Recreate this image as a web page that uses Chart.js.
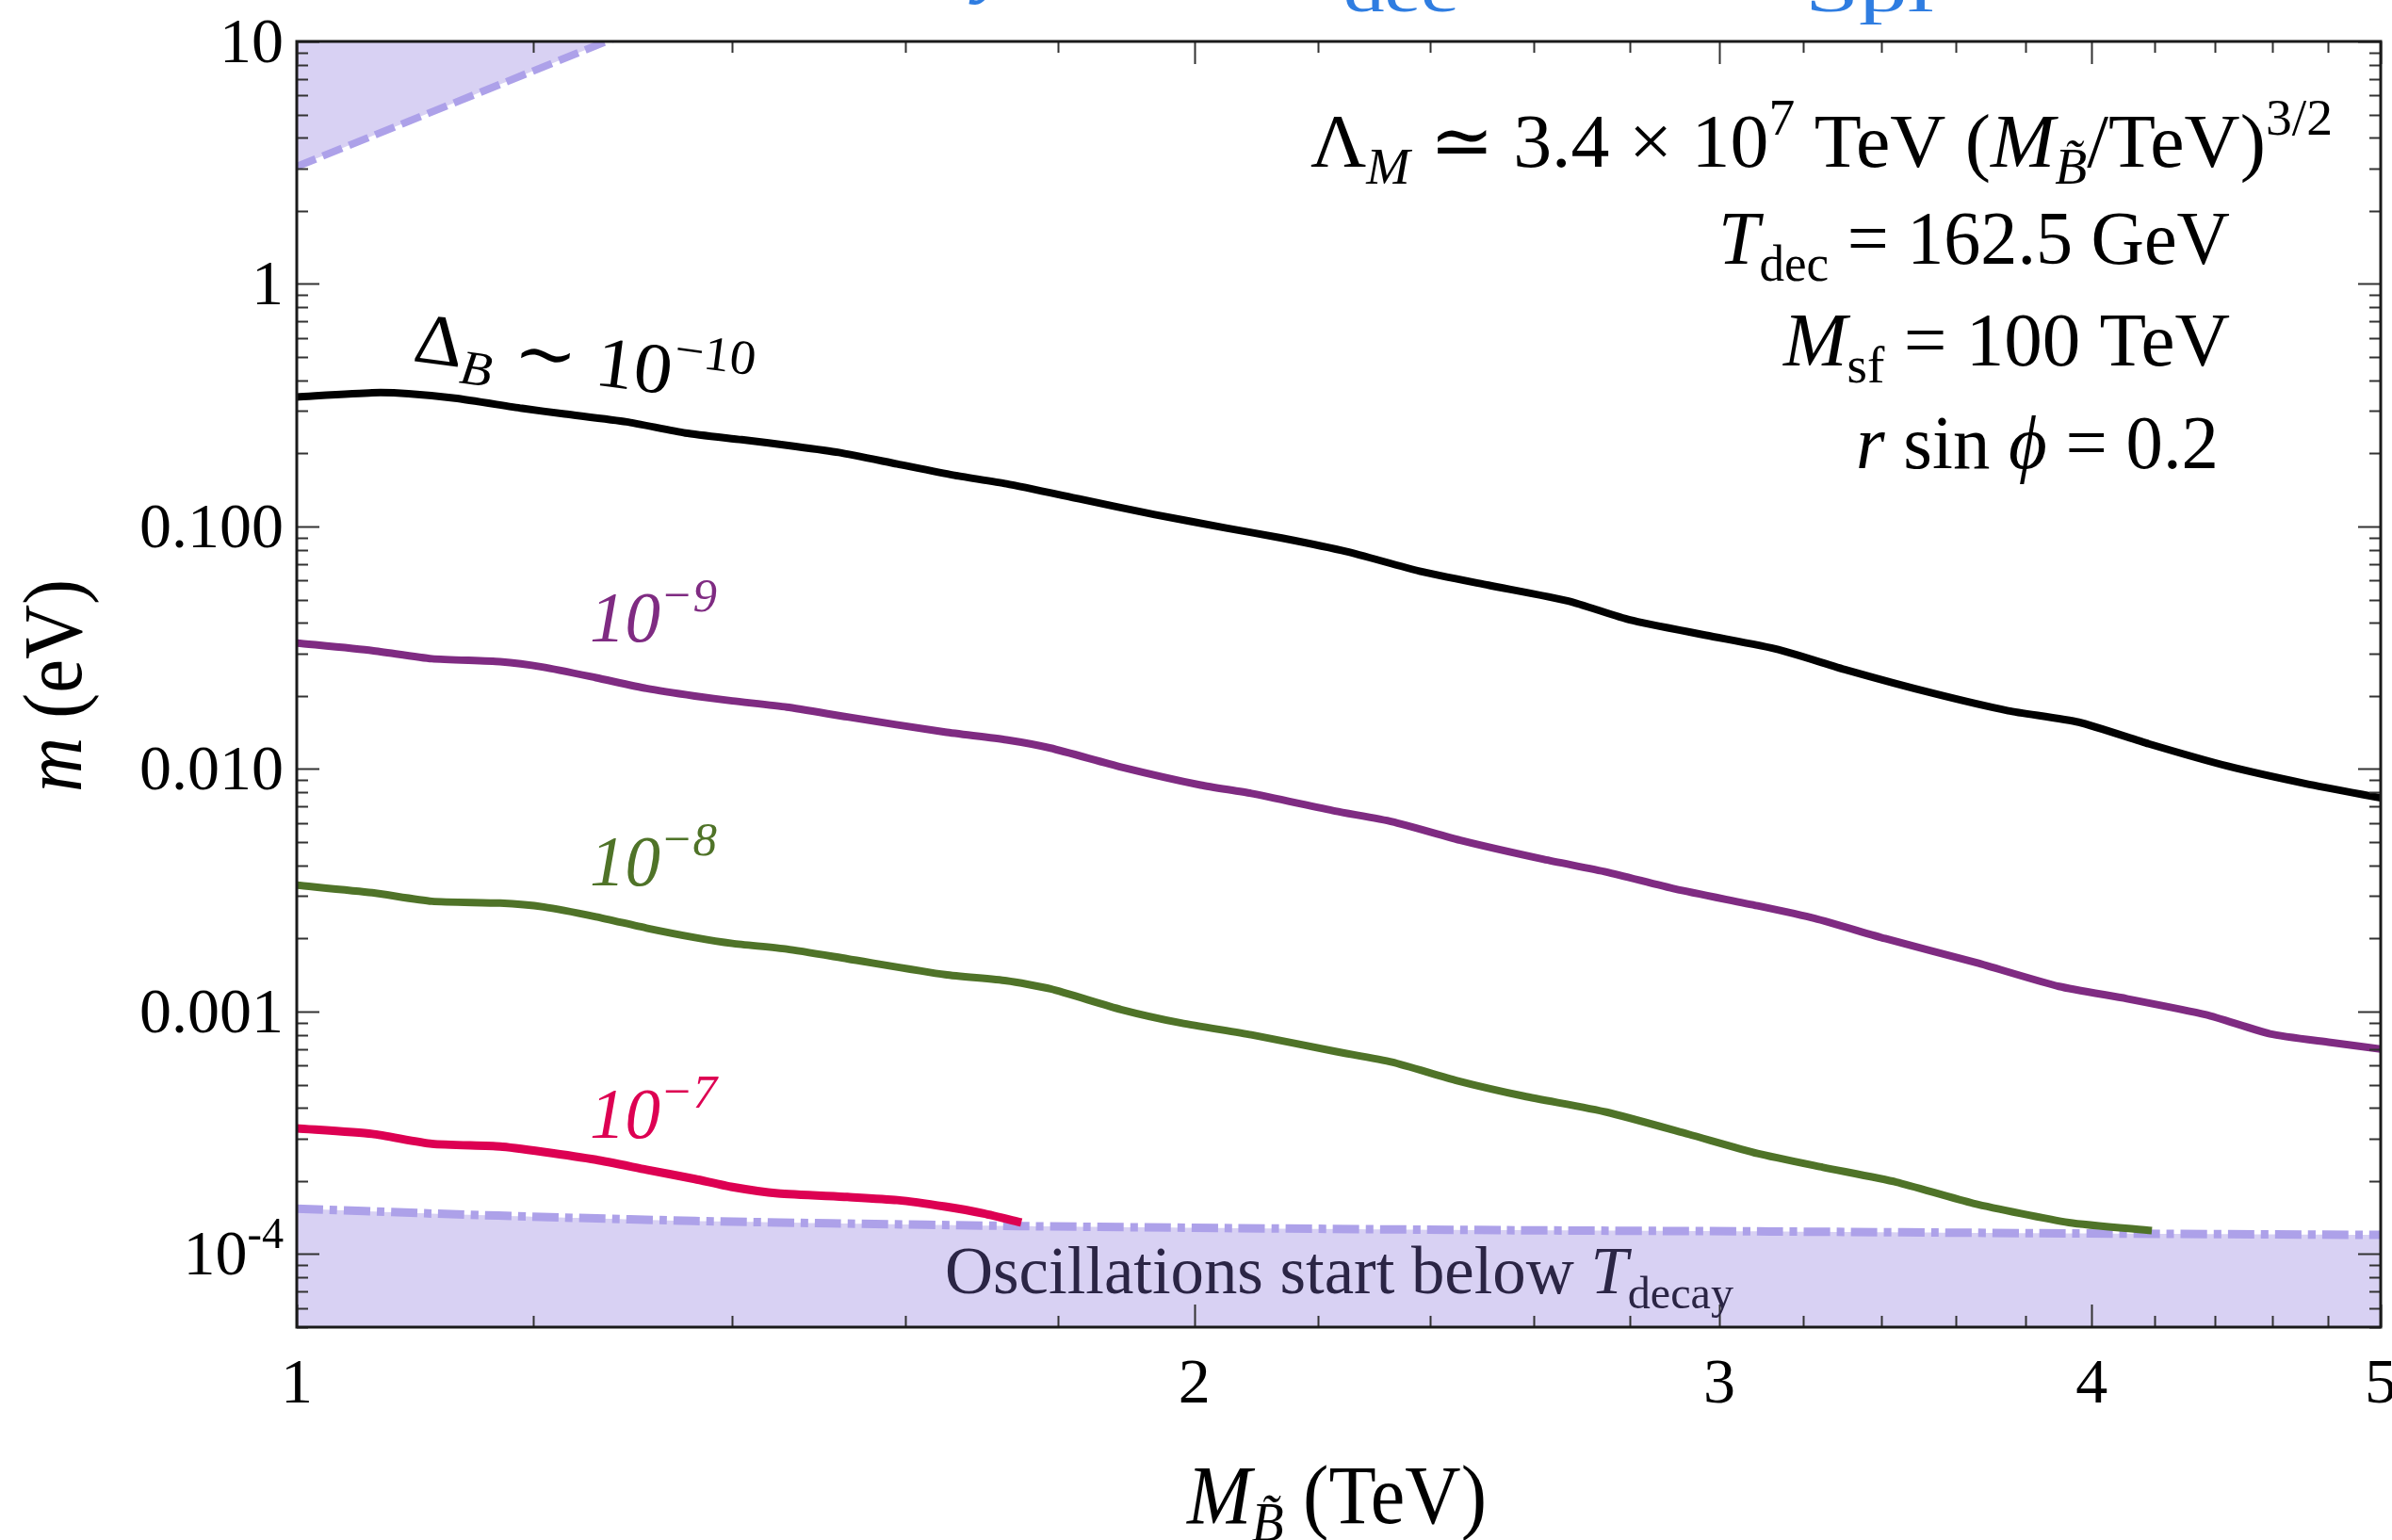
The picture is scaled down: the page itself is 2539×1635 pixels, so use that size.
<!DOCTYPE html>
<html>
<head>
<meta charset="utf-8">
<script src="https://cdn.jsdelivr.net/npm/chart.js@4"></script>
<style>
  html, body { margin: 0; padding: 0; background: #fff; }
  canvas { display: block; }
</style>
</head>
<body>
<canvas id="massChart" width="2539" height="1635"></canvas>
<script>
// Data: m (eV) against M_Bino (TeV), log-log
const blackX = [1.0, 1.06, 1.09, 1.13, 1.19, 1.23, 1.29, 1.35, 1.41, 1.47, 1.52, 1.59, 1.66, 1.73, 1.83, 1.94, 2.05, 2.14, 2.25, 2.38, 2.51, 2.67, 2.80, 2.97, 3.14, 3.31, 3.54, 3.75, 3.96, 4.18, 4.44, 4.72, 5.0];
const blackY = [0.342, 0.356, 0.353, 0.338, 0.307, 0.291, 0.270, 0.243, 0.228, 0.214, 0.202, 0.181, 0.163, 0.150, 0.130, 0.112, 0.0986, 0.0896, 0.0788, 0.0655, 0.0573, 0.0493, 0.0412, 0.0356, 0.0311, 0.0256, 0.0205, 0.0174, 0.0156, 0.0127, 0.0103, 0.0087, 0.0076];

const purpleX = [1.0, 1.06, 1.11, 1.17, 1.21, 1.26, 1.31, 1.36, 1.40, 1.46, 1.53, 1.65, 1.73, 1.79, 1.89, 2.01, 2.09, 2.23, 2.33, 2.46, 2.62, 2.75, 2.90, 3.09, 3.23, 3.41, 3.66, 3.90, 4.11, 4.37, 4.59, 4.81, 5.0];
const purpleY = [0.0331, 0.0308, 0.0285, 0.0277, 0.0263, 0.0238, 0.0215, 0.0200, 0.0191, 0.0180, 0.0164, 0.0142, 0.0132, 0.0122, 0.0102, 0.00859, 0.00793, 0.00671, 0.00607, 0.00506, 0.00424, 0.00376, 0.00320, 0.00273, 0.00242, 0.00200, 0.00159, 0.00127, 0.00113, 0.00097, 0.00081, 0.000746, 0.000700];

const greenX = [1.0, 1.06, 1.11, 1.17, 1.21, 1.26, 1.31, 1.36, 1.40, 1.46, 1.53, 1.65, 1.73, 1.79, 1.89, 1.98, 2.09, 2.23, 2.33, 2.45, 2.58, 2.75, 2.93, 3.09, 3.25, 3.44, 3.65, 3.93, 4.19];
const greenY = [0.00332, 0.00309, 0.00285, 0.00280, 0.00270, 0.00246, 0.00221, 0.00202, 0.00191, 0.00181, 0.00165, 0.00142, 0.00134, 0.00124, 0.00102, 0.000897, 0.000802, 0.000685, 0.000619, 0.000519, 0.000448, 0.000385, 0.000312, 0.000260, 0.000228, 0.000198, 0.000162, 0.000135, 0.000125];

const redX = [1.0, 1.06, 1.11, 1.17, 1.21, 1.26, 1.31, 1.36, 1.40, 1.45, 1.53, 1.59, 1.65, 1.70, 1.75];
const redY = [3.30e-4, 3.13e-4, 2.85e-4, 2.78e-4, 2.64e-4, 2.45e-4, 2.23e-4, 2.04e-4, 1.89e-4, 1.78e-4, 1.72e-4, 1.67e-4, 1.57e-4, 1.47e-4, 1.35e-4];

// excluded regions
const oscX = [1.0, 1.11, 1.23, 1.36, 1.51, 1.75, 2.06, 2.54, 3.12, 3.83, 5.0];
const oscY = [1.54e-4, 1.47e-4, 1.415e-4, 1.37e-4, 1.34e-4, 1.305e-4, 1.28e-4, 1.255e-4, 1.24e-4, 1.22e-4, 1.20e-4];
const topX = [1.0, 1.285];
const topY = [3.05, 10.6];

// axes
const xMin = 1, xMax = 5, yMin = 5e-5, yMax = 10;
const xTickValues = [1, 2, 3, 4, 5];
const xTickLabels = ['1', '2', '3', '4', '5'];
const xMinorTicks = [1.2, 1.4, 1.6, 1.8, 2.2, 2.4, 2.6, 2.8, 3.2, 3.4, 3.6, 3.8, 4.2, 4.4, 4.6, 4.8];
const yTickValues = [10, 1, 0.1, 0.01, 0.001, 0.0001];
const yTickLabels = ['10', '1', '0.100', '0.010', '0.001', '10^-4'];

const FONT = "'Liberation Serif', 'DejaVu Serif', serif";
const lavender = '#d8d1f3';
const lavenderLine = '#ada1e9';

function pts(xs, ys) {
    return xs.map((x, i) => ({ x: x, y: ys[i] }));
}

function fontOf(seg, base) {
    let size = base * ((seg.sub || seg.sup) ? 0.68 : 1);
    return (seg.it ? 'italic ' : '') + size.toFixed(1) + 'px ' + FONT;
}

// draws a run of text pieces (with sub/superscripts) on one baseline
function drawRich(ctx, segs, x, y, base, opts)
{
    opts = opts || {};
    ctx.save();
    ctx.translate(x, y);
    if (opts.rot) ctx.rotate(opts.rot);
    let W = 0;
    const widths = segs.map(s => {
        ctx.font = fontOf(s, base);
        const w = ctx.measureText(s.t).width;
        W += w;
        return w;
    });
    const sx = opts.width ? opts.width / W : 1;
    ctx.scale(sx, 1);
    let cx = opts.align === 'right' ? -W : (opts.align === 'center' ? -W / 2 : 0);
    ctx.fillStyle = opts.color || '#000';
    ctx.textAlign = 'left';
    ctx.textBaseline = 'alphabetic';
    segs.forEach((s, i) => {
        ctx.font = fontOf(s, base);
        const dy = s.sub ? 0.22 * base : (s.sup ? -0.42 * base : 0);
        ctx.fillText(s.t, cx, dy);
        cx += widths[i];
    });
    ctx.restore();
}

function tickSegs(label) {
    if (label.indexOf('^') < 0) return [{ t: label }];
    const parts = label.split('^');
    return [{ t: parts[0] }, { t: parts[1], sup: 1 }];
}

const framePlugin = {
    id: 'frame',
    afterDatasetsDraw(chart) {
        const ctx = chart.ctx;
        const a = chart.chartArea;
        const xs = chart.scales.x, ys = chart.scales.y;

        // ticks pointing inward on all four sides
        ctx.save();
        ctx.strokeStyle = '#333';
        ctx.lineWidth = 2;
        ctx.beginPath();
        xTickValues.concat(xMinorTicks).forEach(v => {
            const len = xTickValues.includes(v) ? 24 : 12;
            const px = Math.round(xs.getPixelForValue(v)) + 0.5;
            ctx.moveTo(px, a.bottom); ctx.lineTo(px, a.bottom - len);
            ctx.moveTo(px, a.top); ctx.lineTo(px, a.top + len);
        });
        for (let e = -5; e <= 1; e++) {
            for (let j = 1; j <= 9; j++) {
                const v = j * Math.pow(10, e);
                if (v < yMin * 0.999 || v > yMax * 1.001) continue;
                const len = j === 1 ? 24 : 12;
                const py = Math.round(ys.getPixelForValue(v)) + 0.5;
                ctx.moveTo(a.left, py); ctx.lineTo(a.left + len, py);
                ctx.moveTo(a.right, py); ctx.lineTo(a.right - len, py);
            }
        }
        ctx.stroke();

        // frame
        ctx.strokeStyle = '#1a1a1a';
        ctx.lineWidth = 3;
        ctx.strokeRect(a.left, a.top, a.right - a.left, a.bottom - a.top);
        ctx.restore();

        // tick labels
        yTickValues.forEach((v, i) => {
            const py = ys.getPixelForValue(v);
            drawRich(ctx, tickSegs(yTickLabels[i]), 301, py + 22, 68, { align: 'right' });
        });
        xTickValues.forEach((v, i) => {
            const px = xs.getPixelForValue(v);
            drawRich(ctx, tickSegs(xTickLabels[i]), px, 1489, 68, { align: 'center' });
        });

        // axis titles
        drawRich(ctx, [{ t: 'M', it: 1 }, { t: 'B\u0303', it: 1, sub: 1 }, { t: ' (TeV)' }], 1260, 1617, 88, { width: 318 });
        ctx.save();
        ctx.translate(86, 728);
        ctx.rotate(-Math.PI / 2);
        drawRich(ctx, [{ t: 'm', it: 1 }, { t: ' (eV)' }], 0, 0, 88, { align: 'center', width: 226 });
        ctx.restore();

        // parameter block
        drawRich(ctx, [{ t: '\u039B' }, { t: 'M', it: 1, sub: 1 }, { t: ' \u2243 3.4 \u00D7 10' }, { t: '7', sup: 1 },
            { t: ' TeV (' }, { t: 'M', it: 1 }, { t: 'B\u0303', it: 1, sub: 1 }, { t: '/TeV)' }, { t: '3/2', sup: 1 }],
            1391, 177, 80, { width: 1085 });
        drawRich(ctx, [{ t: 'T', it: 1 }, { t: 'dec', sub: 1 }, { t: ' = 162.5 GeV' }], 1824, 280, 80, { width: 543 });
        drawRich(ctx, [{ t: 'M', it: 1 }, { t: 'sf', sub: 1 }, { t: ' = 100 TeV' }], 1893, 388, 80, { width: 474 });
        drawRich(ctx, [{ t: 'r', it: 1 }, { t: ' sin ' }, { t: '\u03D5', it: 1 }, { t: ' = 0.2' }], 1970, 497, 80, { width: 385 });

        // curve labels
        drawRich(ctx, [{ t: '\u0394' }, { t: 'B', it: 1, sub: 1 }, { t: ' \u223C 10' }, { t: '\u221210', sup: 1 }],
            437, 383, 76, { rot: 0.13, width: 362 });
        drawRich(ctx, [{ t: '10', it: 1 }, { t: '\u22129', it: 1, sup: 1 }], 626, 681, 76, { width: 135, color: '#7f2b82' });
        drawRich(ctx, [{ t: '10', it: 1 }, { t: '\u22128', it: 1, sup: 1 }], 626, 940, 76, { width: 135, color: '#4f7328' });
        drawRich(ctx, [{ t: '10', it: 1 }, { t: '\u22127', it: 1, sup: 1 }], 626, 1208, 76, { width: 135, color: '#dd0052' });

        // shaded region label
        drawRich(ctx, [{ t: 'Oscillations start below ' }, { t: 'T', it: 1 }, { t: 'decay', sub: 1 }],
            1003, 1373, 72, { width: 837, color: '#2b2545' });

        // title, cut off at the top edge of the figure
        drawRich(ctx, [{ t: 'y', it: 1 }], 1036, -14, 90, { color: '#2f7de1' });
        drawRich(ctx, [{ t: 'dec' }], 1426, 12, 64, { width: 121, color: '#2f7de1' });
        drawRich(ctx, [{ t: 'Spl' }], 1916, 12, 64, { width: 137, color: '#2f7de1' });
    }
};

const ctx = document.getElementById('massChart').getContext('2d');
new Chart(ctx, {
    type: 'line',
    data: {
        datasets: [
            { data: pts(blackX, blackY), borderColor: '#000000', borderWidth: 8, order: 1 },
            { data: pts(purpleX, purpleY), borderColor: '#7f2b82', borderWidth: 8, order: 1 },
            { data: pts(greenX, greenY), borderColor: '#4f7328', borderWidth: 8, order: 1 },
            { data: pts(redX, redY), borderColor: '#dd0052', borderWidth: 9, order: 1 },
            { data: pts(oscX, oscY), borderColor: lavenderLine, borderWidth: 9, borderDash: [28, 7, 8, 7],
              backgroundColor: lavender, fill: 'start', order: 2 },
            { data: pts(topX, topY), borderColor: lavenderLine, borderWidth: 8, borderDash: [22, 8],
              backgroundColor: lavender, fill: 'end', order: 2 }
        ]
    },
    options: {
        responsive: false,
        animation: false,
        devicePixelRatio: 1,
        layout: { padding: { left: 315, right: 12, top: 44, bottom: 226 } },
        elements: {
            point: { radius: 0, hoverRadius: 0 },
            line: { tension: 0.2, borderCapStyle: 'butt', borderJoinStyle: 'round' }
        },
        plugins: { legend: { display: false }, tooltip: { enabled: false } },
        events: [],
        scales: {
            x: { type: 'logarithmic', min: xMin, max: xMax, display: false },
            y: { type: 'logarithmic', min: yMin, max: yMax, display: false }
        }
    },
    plugins: [framePlugin]
});
</script>
</body>
</html>
